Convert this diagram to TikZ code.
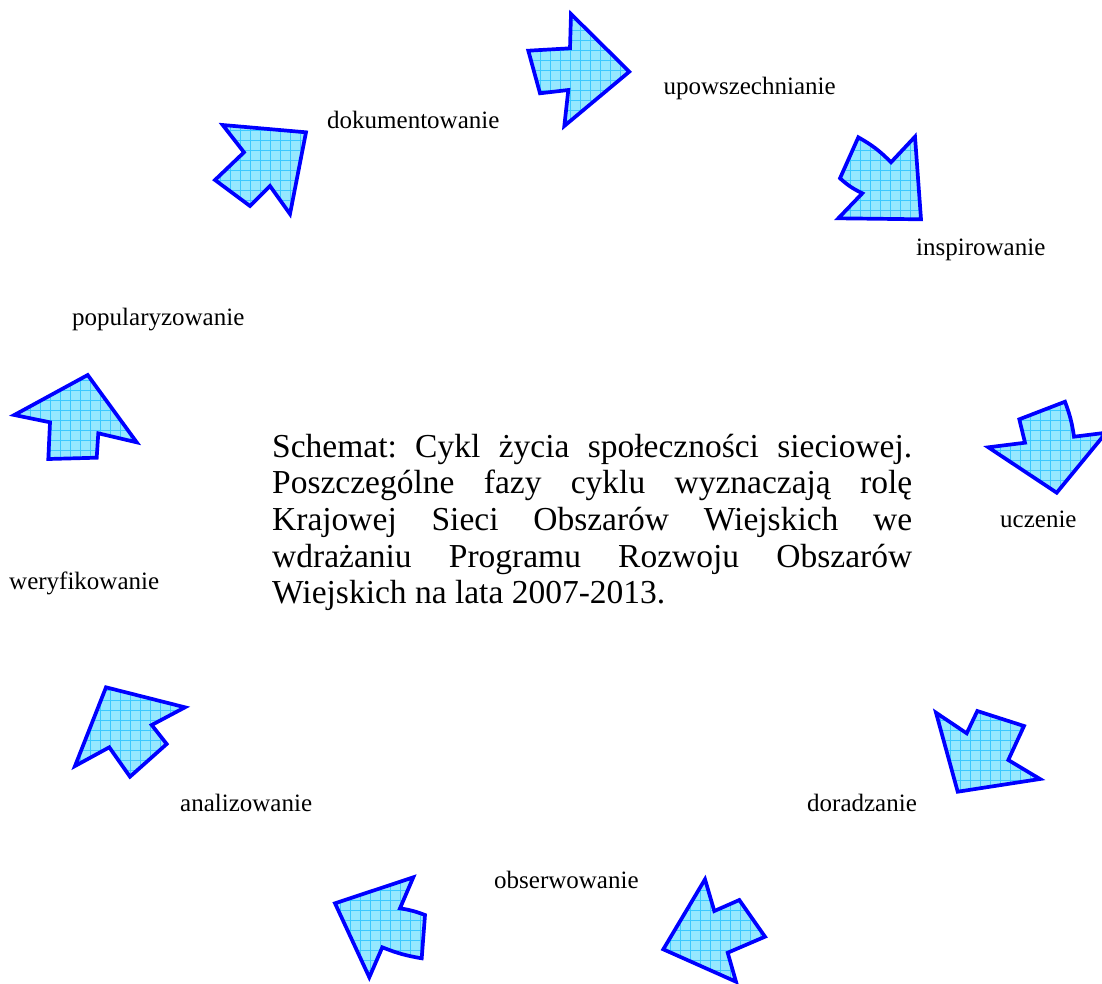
\documentclass[tikz,border=0pt]{standalone}
\usepackage{fontspec}
\setmainfont{Liberation Serif}
\frenchspacing
\definecolor{arrfill}{RGB}{150,232,255}
\definecolor{arrgrid}{RGB}{60,200,255}
\definecolor{arredge}{RGB}{0,0,255}
\tikzset{
  arrowfill/.style={fill=arrfill},
  arrowgrid/.style={draw=arrgrid, line width=0.7pt},
  arrowedge/.style={draw=arredge, line width=3.7pt, line join=miter},
  label/.style={anchor=base west, inner sep=0pt, font=\fontsize{25}{30}\selectfont},
}
\newcommand\blockarrow[1]{%
  \fill[arrowfill] #1;
  \begin{scope}
    \clip #1;
    \draw[arrowgrid, step=10pt] (0,0) grid (1110,990);
  \end{scope}
  \draw[arrowedge] #1;
}
\begin{document}
\begin{tikzpicture}[x=1pt,y=-1pt]
\useasboundingbox (0,0) rectangle (1102,983);

% arrows
\blockarrow{(528.3,50.7) -- (570,48.3) -- (571,14) -- (629.3,71.7) -- (564.3,126) -- (568.3,90) -- (540,93.3) -- cycle}
\blockarrow{(222.7,125) -- (306,132.3) -- (290,214) -- (270,186) -- (250,206) -- (215,180) -- (244,152.3) -- cycle}
\blockarrow{(858.3,137.3) to[bend left=8] (891,162.3) -- (915,136.7) -- (921,219.3) -- (838.3,218.3) -- (862.3,193.3) to[bend left=8] (840,178.3) -- cycle}
\blockarrow{(1019.3,419.3) -- (1065,401.7) to[bend left=6] (1074,436.7) -- (1106,432.7) -- (1056.7,492.7) -- (988.3,447.3) -- (1025,442.7) -- cycle}
\blockarrow{(936,712.7) -- (966.7,733.3) -- (977.3,711) -- (1024,726) -- (1008.3,760) -- (1040,779) -- (957.7,791.7) -- cycle}
\blockarrow{(705,879.3) -- (714.3,911) -- (739.3,900) -- (765,936.7) -- (727.7,952.7) -- (736,981.7) -- (663.3,949.3) -- cycle}
\blockarrow{(413.3,877.3) -- (400,908.3) to[bend left=6] (425,915) -- (421.7,958.3) to[bend left=6] (382.3,947.3) -- (369.3,977.3) -- (335,903.3) -- cycle}
\blockarrow{(106,687.3) -- (185,707.3) -- (151.7,725) -- (166.7,744) -- (130,776.7) -- (109.3,747.3) -- (75,766) -- cycle}
\blockarrow{(87.7,375) -- (136.7,442.3) -- (98.3,433.3) -- (96.7,457.7) -- (48.3,459) -- (50,422.3) -- (14.3,415) -- cycle}

% labels
\node[label] (l1) at (663.3,94.3) {upowszechnianie};
\node[label] (l2) at (327,128.3) {dokumentowanie};
\node[label] (l3) at (916,255) {inspirowanie};
\node[label] (l4) at (72,325) {popularyzowanie};
\node[label] (l5) at (1000,527) {uczenie};
\node[label] (l6) at (9,589) {weryfikowanie};
\node[label] (l7) at (180,811) {analizowanie};
\node[label] (l8) at (807,811) {doradzanie};
\node[label] (l9) at (494,888) {obserwowanie};

% description
\node[anchor=north west, inner sep=0pt, text width=640pt, align=justify,
      font=\fontsize{33.5}{36.7}\selectfont] (desc) at (272,433.5)
{\hyphenpenalty=10000 \exhyphenpenalty=10000
Schemat: Cykl życia społeczności sieciowej.\linebreak
Poszczególne fazy cyklu wyznaczają rolę\linebreak
Krajowej Sieci Obszarów Wiejskich we\linebreak
wdrażaniu Programu Rozwoju Obszarów\linebreak
Wiejskich na lata 2007-2013.};
\end{tikzpicture}
\end{document}
